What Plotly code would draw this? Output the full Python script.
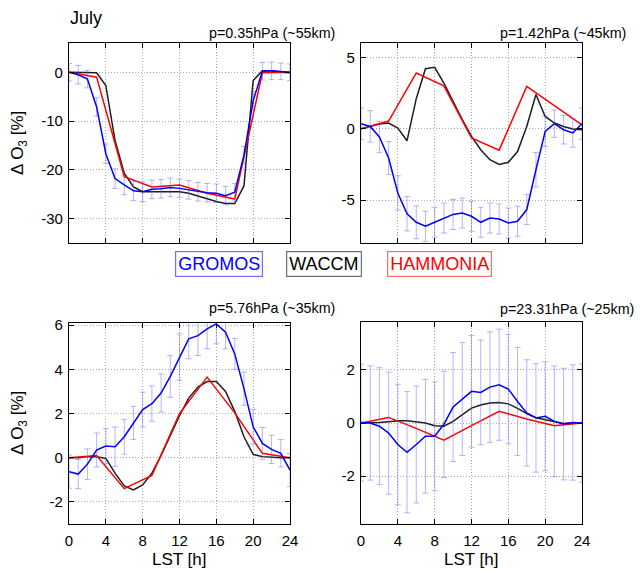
import plotly.graph_objects as go

W, H = 640, 570

hours = list(range(25))
hours3 = list(range(0, 25, 3))

# Panel 1: p=0.35hPa
gromos1 = [0, -0.5, -1.4, -7.1, -16.7, -21.8, -23.1, -24.3, -24.5, -24.0, -23.9, -23.6, -23.8,
           -24.1, -24.5, -24.7, -24.8, -25.3, -24.6, -17.0, -5.8, 0.2, 0.3, 0.2, 0.0]
gromos1_err = [1.8, 1.9, 1.8, 1.9, 2.0, 2.0, 2.0, 2.0, 2.0, 1.9, 1.9, 1.9, 1.9,
               1.9, 1.9, 1.9, 1.9, 1.9, 1.8, 1.8, 1.8, 1.8, 1.8, 1.7, 1.7]
waccm1 = [0, 0, 0, -0.1, -2.7, -14.0, -20.7, -23.5, -24.5, -24.5, -24.4, -24.4, -24.5,
          -24.8, -25.4, -26.0, -26.5, -26.9, -26.9, -23.3, -1.7, 0.3, 0.3, 0.0, -0.1]
hammonia1 = [0, -1.0, -21.4, -23.5, -23.1, -24.8, -26.0, -0.1, 0.0]

# Panel 2: p=1.42hPa
gromos2 = [0.35, 0.16, -0.58, -2.05, -4.5, -5.95, -6.55, -6.83, -6.55, -6.25, -6.0, -5.9, -6.13,
           -6.55, -6.25, -6.32, -6.6, -6.48, -5.66, -2.87, -0.19, 0.35, -0.07, -0.3, 0.35]
gromos2_err = [1.1, 1.1, 1.1, 1.15, 1.2, 1.2, 1.15, 1.06, 1.05, 1.05, 1.05, 1.05, 1.05,
               1.05, 1.05, 1.05, 1.05, 1.05, 1.05, 1.2, 1.07, 0.95, 1.0, 1.0, 1.1]
waccm2 = [0, 0.16, 0.33, 0.4, 0.05, -0.84, 2.1, 4.2, 4.3, 3.2, 1.9, 0.63, -0.54,
          -1.47, -2.17, -2.5, -2.35, -1.6, 0.16, 2.4, 0.86, 0.4, 0.16, -0.02, -0.07]
hammonia2 = [0, 0.54, 3.9, 3.0, -0.65, -1.5, 2.96, 1.6, 0.26]

# Panel 3: p=5.76hPa
gromos3 = [-0.63, -0.74, -0.29, 0.35, 0.53, 0.5, 0.95, 1.58, 2.18, 2.45, 2.93, 3.68, 4.56,
           5.38, 5.53, 5.83, 6.06, 5.68, 4.7, 3.13, 1.4, 0.65, 0.38, 0.2, -0.56]
gromos3_err = [0.75, 0.66, 0.69, 0.77, 0.79, 0.89, 0.79, 0.75, 0.79, 0.8, 0.86, 0.94, 1.05,
               0.9, 0.9, 0.9, 0.9, 0.75, 0.7, 0.75, 0.79, 0.72, 0.64, 0.62, 0.75]
waccm3 = [0, 0, 0.05, 0.05, -0.03, -0.7, -1.28, -1.46, -1.23, -0.7, 0.1, 1.0, 1.9,
          2.7, 3.2, 3.45, 3.45, 3.0, 2.1, 0.95, 0.15, 0.05, 0.02, 0.0, 0.0]
hammonia3 = [0, 0.1, -1.4, -0.8, 2.0, 3.65, 2.03, 0.2, 0.0]

# Panel 4: p=23.31hPa
gromos4 = [0.02, 0, -0.12, -0.38, -0.81, -1.1, -0.81, -0.5, -0.5, -0.05, 0.6, 0.9, 1.19,
           1.15, 1.35, 1.44, 1.28, 0.81, 0.38, 0.19, 0.25, 0.06, -0.04, 0.02, 0.0]
gromos4_err = [2.2, 2.15, 2.2, 2.3, 2.27, 2.28, 2.2, 2.14, 2.05, 2.0, 2.05, 2.12, 2.1,
               1.97, 2.08, 2.09, 2.06, 2.03, 2.0, 2.04, 2.05, 2.08, 2.1, 2.17, 2.23]
waccm4 = [0, 0, 0.02, 0.05, 0.08, 0.08, 0.05, 0, -0.1, -0.12, 0.06, 0.31, 0.56,
          0.68, 0.75, 0.77, 0.72, 0.55, 0.35, 0.2, 0.12, 0.04, -0.02, 0, 0]
hammonia4 = [0, 0.21, -0.2, -0.65, -0.1, 0.44, 0.15, -0.1, 0.0]

titles = ["p=0.35hPa (~55km)", "p=1.42hPa (~45km)", "p=5.76hPa (~35km)", "p=23.31hPa (~25km)"]
yranges = [[-35, 6], [-8, 6], [-3, 6.1], [-3.8, 3.8]]
ytickvals = [[0, -10, -20, -30], [5, 0, -5], [-2, 0, 2, 4, 6], [-2, 0, 2]]
xticks = [0, 4, 8, 12, 16, 20, 24]

panels = [
    (gromos1, gromos1_err, waccm1, hammonia1),
    (gromos2, gromos2_err, waccm2, hammonia2),
    (gromos3, gromos3_err, waccm3, hammonia3),
    (gromos4, gromos4_err, waccm4, hammonia4),
]

# pixel boxes (left, right, top, bottom)
boxes = [(69, 290, 43, 243), (361, 582, 43, 243), (69, 290, 323, 524), (361, 582, 322, 524)]

FONT = "Liberation Sans, Arial, sans-serif"
BLUE = "rgb(0,0,255)"
BLACK = "rgb(30,30,30)"
RED = "rgb(255,0,0)"

fig = go.Figure()
layout = dict(template="none", width=W, height=H, margin=dict(l=0, r=0, t=0, b=0, pad=0),
              paper_bgcolor="white", plot_bgcolor="white", showlegend=False,
              font=dict(family=FONT, size=15, color="black"))

for i, (g, ge, w, hm) in enumerate(panels):
    n = i + 1
    xa = "x" if n == 1 else f"x{n}"
    ya = "y" if n == 1 else f"y{n}"
    fig.add_trace(go.Scatter(x=hours, y=w, mode="lines", line=dict(color=BLACK, width=1.5),
                             xaxis=xa, yaxis=ya))
    fig.add_trace(go.Scatter(x=hours3, y=hm, mode="lines", line=dict(color=RED, width=1.5),
                             xaxis=xa, yaxis=ya))
    fig.add_trace(go.Scatter(x=hours, y=g, mode="lines", line=dict(color=BLUE, width=1.5),
                             error_y=dict(type="data", array=ge, visible=True,
                                          color="rgba(90,90,255,0.45)", thickness=1, width=3),
                             xaxis=xa, yaxis=ya))
    l, r, t, b = boxes[i]
    xdom = [l / W, r / W]
    ydom = [1 - b / H, 1 - t / H]
    axcommon = dict(showline=True, linecolor="black", linewidth=1.2, mirror="ticks",
                    ticks="inside", ticklen=5, tickcolor="black", tickwidth=1,
                    showgrid=True, gridcolor="rgb(170,170,170)", griddash="1px,2px", gridwidth=1,
                    zeroline=False, automargin=False, tickfont=dict(size=15, family=FONT))
    layout["xaxis" if n == 1 else f"xaxis{n}"] = dict(
        axcommon, domain=xdom, range=[0, 24], tickvals=xticks,
        ticktext=[str(v) for v in xticks], showticklabels=(n >= 3),
        anchor=ya, ticklabelstandoff=3)
    layout["yaxis" if n == 1 else f"yaxis{n}"] = dict(
        axcommon, domain=ydom, range=yranges[i], tickvals=ytickvals[i],
        ticktext=[str(v) for v in ytickvals[i]], anchor=xa, ticklabelstandoff=2)

annotations = []
title_pos = [(207, 33), (498, 33), (207, 308), (498, 309)]
for (x, y), t in zip(title_pos, titles):
    annotations.append(dict(x=x / W, y=1 - y / H, xref="paper", yref="paper", text=t,
                            showarrow=False, xanchor="left", yanchor="middle",
                            font=dict(size=14.3, family=FONT, color="black")))
annotations.append(dict(x=68 / W, y=1 - 18 / H, xref="paper", yref="paper", text="July",
                        showarrow=False, xanchor="left", yanchor="middle",
                        font=dict(size=18, family=FONT, color="black")))
for yc in [143, 423]:
    annotations.append(dict(x=19 / W, y=1 - yc / H, xref="paper", yref="paper",
                            text="Δ O<sub>3</sub> [%]", textangle=-90, showarrow=False,
                            xanchor="center", yanchor="middle",
                            font=dict(size=17, family=FONT, color="black")))
for xc in [179.5, 471.5]:
    annotations.append(dict(x=xc / W, y=1 - 559 / H, xref="paper", yref="paper",
                            text="LST [h]", showarrow=False, xanchor="center", yanchor="middle",
                            font=dict(size=17, family=FONT, color="black")))
legend_items = [("GROMOS", 218.5, "rgb(0,0,255)", "rgb(110,110,255)"),
                ("WACCM", 323.5, "black", "rgb(110,110,110)"),
                ("HAMMONIA", 439.5, "rgb(255,0,0)", "rgb(255,110,110)")]
for txt, xc, fc, bc in legend_items:
    annotations.append(dict(x=xc / W, y=1 - 264 / H, xref="paper", yref="paper", text=txt,
                            showarrow=False, xanchor="center", yanchor="middle",
                            font=dict(size=18, family=FONT, color=fc),
                            bordercolor=bc, borderwidth=1.2, borderpad=2, bgcolor="white"))
layout["annotations"] = annotations
fig.update_layout(**layout)
fig.write_html("out.html", config={"displayModeBar": False},
               post_script="document.body.style.margin='0px';")
